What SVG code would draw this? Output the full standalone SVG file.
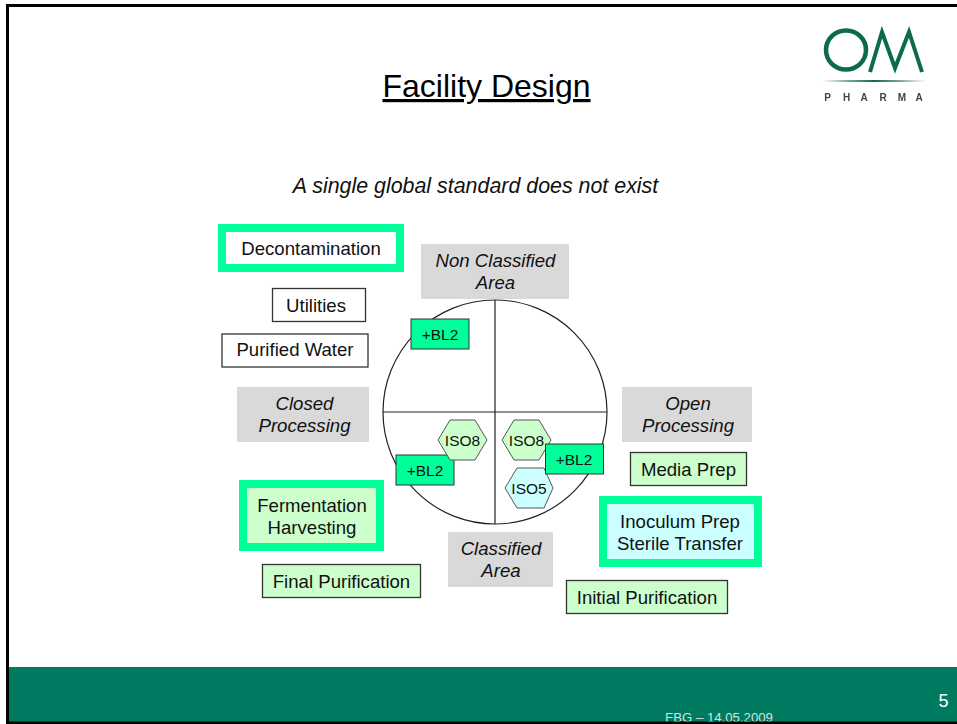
<svg xmlns="http://www.w3.org/2000/svg" width="957" height="724" viewBox="0 0 957 724">
<defs>
<linearGradient id="rule"><stop offset="0" stop-color="#fff"/><stop offset=".25" stop-color="#7aa896"/><stop offset=".5" stop-color="#0e6b4c"/><stop offset=".75" stop-color="#7aa896"/><stop offset="1" stop-color="#fff"/></linearGradient>
<filter id="soft" x="-5%" y="-5%" width="110%" height="110%"><feGaussianBlur stdDeviation="0.5"/></filter>
</defs>
<style>
text{font-family:"Liberation Sans",Arial,sans-serif;font-size:18.6px;fill:#111;text-anchor:middle}
.i{font-style:italic}
.s{font-size:15.5px}
.g{fill:#d9d9d9}
.b{stroke:#333;stroke-width:1.3}
.w{fill:#fff}
.lg{fill:#ccffcc}
.lb{fill:#ccffff}
.m{fill:#00ff99;stroke:#333;stroke-width:1}
.hl{stroke:#00ff99;stroke-width:8}
.hex{stroke:#555;stroke-width:1}
.ln{stroke:#222;stroke-width:1.2;fill:none}
</style>
<rect width="957" height="724" fill="#fff"/>
<rect x="6" y="667" width="951" height="57" fill="#007a60"/>
<text x="486.500" y="97" style="font-size:32px;fill:#000" text-decoration="underline">Facility Design</text>
<text x="475.500" y="193" class="i" style="font-size:21.4px">A single global standard does not exist</text>
<g id="logo">
<g filter="url(#soft)">
<ellipse cx="846" cy="50" rx="20" ry="19.500" fill="none" stroke="#0e6b4c" stroke-width="4.500"/>
<path d="M870 72L882 32L895 68L909 32L922 72" fill="none" stroke="#0e6b4c" stroke-width="4" stroke-linejoin="miter"/>
<text y="101" x="827.700 846.700 864 883 902 919" style="font-size:10px;font-weight:bold;fill:#444">PHARMA</text>
</g>
<rect x="822" y="80" width="104" height="2" fill="url(#rule)"/>
</g>
<g id="connectors">
<circle class="ln" cx="495" cy="412" r="112"/>
<path class="ln" d="M495 300V524M383 412H607"/>
</g>
<g id="area-nonclassified"><rect class="g" x="421" y="244" width="148" height="55"/><text class="i" x="495.500" y="267">Non Classified</text><text class="i" x="495.500" y="289">Area</text></g>
<g id="area-closed"><rect class="g" x="237" y="387" width="132" height="55"/><text class="i" x="304.500" y="410">Closed</text><text class="i" x="304.500" y="432">Processing</text></g>
<g id="area-open"><rect class="g" x="622" y="387" width="130" height="55"/><text class="i" x="688" y="410">Open</text><text class="i" x="688" y="432">Processing</text></g>
<g id="area-classified"><rect class="g" x="448" y="532" width="105" height="55"/><text class="i" x="501" y="555">Classified</text><text class="i" x="501" y="577">Area</text></g>
<g id="decontamination"><rect class="w hl" x="222" y="228" width="178" height="40"/><text x="311" y="255">Decontamination</text></g>
<g id="utilities"><rect class="w b" x="272.500" y="288.500" width="93" height="33"/><text x="316" y="312">Utilities</text></g>
<g id="purified-water"><rect class="w b" x="222" y="334" width="146" height="33"/><text x="295" y="356">Purified Water</text></g>
<g id="bl2-top"><rect class="m" x="411" y="319" width="58" height="30"/><text class="s" x="440" y="340">+BL2</text></g>
<g id="bl2-left"><rect class="m" x="396" y="455" width="58" height="30"/><text class="s" x="425" y="476">+BL2</text></g>
<g id="iso8-left"><polygon class="lg hex" points="438,440 450,420 475,420 487,440 475,460 450,460"/><text class="s" x="462.500" y="446">ISO8</text></g>
<g id="iso8-right"><polygon class="lg hex" points="502,440 514,420 539,420 551,440 539,460 514,460"/><text class="s" x="526.500" y="446">ISO8</text></g>
<g id="iso5"><polygon class="lb hex" points="505,488 517,468 544,468 553,488 544,508 517,508"/><text class="s" x="529" y="494">ISO5</text></g>
<g id="bl2-right"><rect class="m" x="545.500" y="444" width="58" height="30"/><text class="s" x="574" y="465">+BL2</text></g>
<g id="fermentation"><rect class="lg hl" x="243" y="484" width="137" height="63"/><text x="312" y="512">Fermentation</text><text x="312" y="534">Harvesting</text></g>
<g id="final-purification"><rect class="lg b" x="262.500" y="564.500" width="158" height="33"/><text x="341.500" y="588">Final Purification</text></g>
<g id="media-prep"><rect class="lg b" x="630.500" y="452.500" width="116" height="33"/><text x="688.500" y="476">Media Prep</text></g>
<g id="inoculum"><rect class="lb hl" x="603" y="500" width="155" height="63"/><text x="680" y="528">Inoculum Prep</text><text x="680" y="550">Sterile Transfer</text></g>
<g id="initial-purification"><rect class="lg b" x="566.500" y="580.500" width="161" height="33"/><text x="647" y="604">Initial Purification</text></g>
<text x="943.500" y="707" style="font-size:18px;fill:#fff">5</text>
<text x="719" y="721.500" style="font-size:13.200px;fill:#cfe3dc">FBG – 14.05.2009</text>
<path d="M7.500 724V5.500H957" fill="none" stroke="#000" stroke-width="3"/>
<rect x="6" y="721.500" width="951" height="2.500" fill="#000"/>
</svg>
